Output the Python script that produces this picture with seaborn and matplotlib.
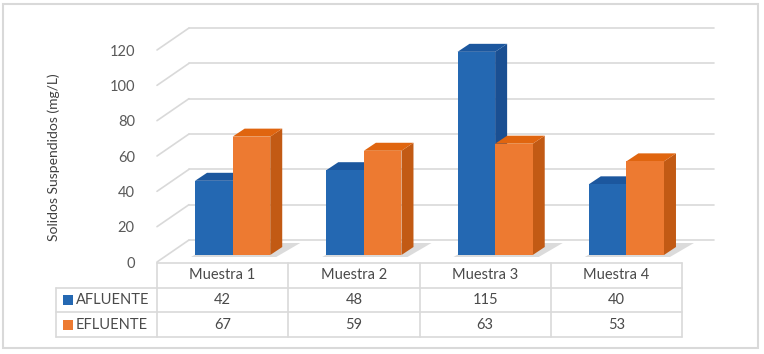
import pandas as pd
import matplotlib
matplotlib.use("Agg")
import matplotlib.pyplot as plt
import seaborn as sns
from matplotlib.patches import Polygon, Rectangle

# data
muestras = ["Muestra 1", "Muestra 2", "Muestra 3", "Muestra 4"]
series = ["AFLUENTE", "EFLUENTE"]
afluente = [42, 48, 115, 40]
efluente = [67, 59, 63, 53]
y_ticks = [0, 20, 40, 60, 80, 100, 120]
y_label = "Solidos Suspendidos (mg/L)"

front_colors = {"AFLUENTE": "#2468b2", "EFLUENTE": "#ed7a31"}
top_colors = {"AFLUENTE": "#1c579e", "EFLUENTE": "#e0650f"}
side_colors = {"AFLUENTE": "#1a4f92", "EFLUENTE": "#c25a14"}

df = pd.DataFrame({
    "muestra": muestras * 2,
    "serie": [series[0]] * len(muestras) + [series[1]] * len(muestras),
    "valor": afluente + efluente,
})

sns.set_theme(style="white")
plt.rcParams["font.family"] = ["Lato", "DejaVu Sans"]

W, H = 764, 354
fig = plt.figure(figsize=(W / 100, H / 100), dpi=100)

# front plane of the plot box, in pixels from top-left
left, right, top, bottom = 157, 682, 50, 262
ax = fig.add_axes([left / W, 1 - bottom / H, (right - left) / W, (bottom - top) / H])
px_x = 4 / (right - left)      # data units per pixel
px_y = 120 / (bottom - top)

# pseudo-3D depths (pixels)
wall_dx, wall_dy = 32 * px_x, 22 * px_y
shift_x, shift_y = 10 * px_x, 7 * px_y
bar_dx, bar_dy = 12 * px_x, 8 * px_y

grid_col = "#d9d9d9"
for t in y_ticks:
    ax.plot([-0.5, -0.5 + wall_dx], [t, t + wall_dy], color=grid_col, lw=1.2, clip_on=False, zorder=1)
    ax.plot([-0.5 + wall_dx, 3.5 + wall_dx], [t + wall_dy, t + wall_dy], color=grid_col, lw=1.2,
            clip_on=False, zorder=1)

sns.barplot(data=df, x="muestra", y="valor", hue="serie", palette=front_colors,
            width=0.573, saturation=1, legend=False, ax=ax, errorbar=None)

# soft shadows at the base of each group
for i in range(len(muestras)):
    gl = i - 0.573 / 2 + shift_x
    gr = i + 0.573 / 2 + shift_x
    shadow = [(gl - 4 * px_x, shift_y - 2 * px_y), (gr + 6 * px_x, shift_y - 2 * px_y),
              (gr + 30 * px_x, shift_y + 12 * px_y), (gl + 20 * px_x, shift_y + 12 * px_y)]
    ax.add_patch(Polygon(shadow, closed=True, fc="#b0b0b0", ec="none", alpha=0.45,
                         zorder=2, clip_on=False))

for k, (serie, cont) in enumerate(zip(series, ax.containers)):
    z = 3 + k
    for p in cont.patches:
        x0, w, h = p.get_x() + shift_x, p.get_width(), p.get_height()
        p.set_x(x0)
        p.set_y(shift_y)
        p.set_edgecolor("none")
        p.set_zorder(z + 0.2)
        p.set_clip_on(False)
        y1 = shift_y + h
        side = [(x0 + w, shift_y), (x0 + w, y1), (x0 + w + bar_dx, y1 + bar_dy),
                (x0 + w + bar_dx, shift_y + bar_dy)]
        topf = [(x0, y1), (x0 + w, y1), (x0 + w + bar_dx, y1 + bar_dy), (x0 + bar_dx, y1 + bar_dy)]
        ax.add_patch(Polygon(side, closed=True, fc=side_colors[serie], ec="none", zorder=z, clip_on=False))
        ax.add_patch(Polygon(topf, closed=True, fc=top_colors[serie], ec="none", zorder=z + 0.1,
                             clip_on=False))

ax.set_xlim(-0.5, 3.5)
ax.set_ylim(0, 120)
ax.set_yticks(y_ticks)
ax.set_xticks([])
ax.set_xlabel("")
ax.tick_params(axis="y", length=0, pad=16, labelsize=10.5, labelcolor="#595959")
ax.set_ylabel(y_label, fontsize=10, color="#404040")
ax.yaxis.set_label_coords((60 - left) / (right - left), (bottom - 157) / (bottom - top))
for s in ax.spines.values():
    s.set_visible(False)
ax.patch.set_alpha(0)

# data table below the plot
t_left, t_top, t_bottom = 56, 263, 337
tax = fig.add_axes([t_left / W, 1 - t_bottom / H, (right - t_left) / W, (t_bottom - t_top) / H])
x_first = -0.5 - (left - t_left) * px_x
tax.set_xlim(x_first, 3.5)
tax.set_ylim(0, 3)
tax.axis("off")
row_px = (t_bottom - t_top) / 3

tax.plot([-0.5, 3.5], [3, 3], color=grid_col, lw=1.2, clip_on=False)
for yy in [2, 1, 0]:
    tax.plot([x_first, 3.5], [yy, yy], color=grid_col, lw=1.2, clip_on=False)
for k in range(len(muestras) + 1):
    tax.plot([-0.5 + k, -0.5 + k], [0, 3], color=grid_col, lw=1.2, clip_on=False)
tax.plot([x_first, x_first], [0, 2], color=grid_col, lw=1.2, clip_on=False)

txt_col = "#4a4a4a"
for i, m in enumerate(muestras):
    tax.text(i, 2.5, m, ha="center", va="center", fontsize=10.5, color=txt_col)
    tax.text(i, 1.5, str(afluente[i]), ha="center", va="center", fontsize=10.5, color=txt_col)
    tax.text(i, 0.5, str(efluente[i]), ha="center", va="center", fontsize=10.5, color=txt_col)

for yy, serie in zip([1.5, 0.5], series):
    sq_x = x_first + 7 * px_x
    tax.add_patch(Rectangle((sq_x, yy - 5 / row_px), 10 * px_x, 10 / row_px,
                            fc=front_colors[serie], ec="none", clip_on=False))
    tax.text(sq_x + 13 * px_x, yy, serie, ha="left", va="center", fontsize=10.5, color=txt_col)

# outer chart border
fig.add_artist(Rectangle((3 / W, 1 - 348 / H), (758 - 3) / W, (348 - 4) / H,
                         transform=fig.transFigure, fill=False, ec="#d9d9d9", lw=1.5))

fig.savefig("out.png", dpi=100)
